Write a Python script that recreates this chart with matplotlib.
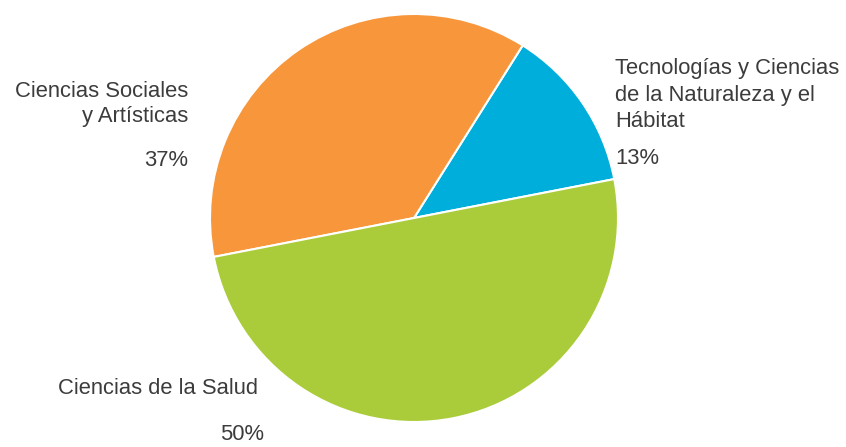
import matplotlib.pyplot as plt
import numpy as np

labels = ['Tecnologías y Ciencias\nde la Naturaleza y el\nHábitat',
          'Ciencias Sociales\ny Artísticas',
          'Ciencias de la Salud']
values = [13, 37, 50]
colors = ['#00AEDB', '#F7963A', '#AACC3A']

plt.rcParams['font.family'] = ['Liberation Sans', 'DejaVu Sans']

fig = plt.figure(figsize=(8.46, 4.47), dpi=100)
ax = fig.add_axes([0, 0, 1, 1])

H = 447
ax.pie(values, colors=colors, startangle=11, counterclock=True,
       center=(414, H - 218), radius=204,
       wedgeprops=dict(edgecolor='white', linewidth=1.5))
ax.set_xlim(0, 846)
ax.set_ylim(0, 447)
ax.set_aspect('equal')
ax.axis('off')

tc = '#3c3c3c'
fs = 15.8
# Tecnologias
ax.text(615, H - 95, labels[0], ha='left', va='center', fontsize=fs, color=tc,
        linespacing=1.32)
ax.text(615, H - 158, '%d%%' % values[0], ha='left', va='center', fontsize=fs, color=tc)
# Sociales
ax.text(188, H - 104, labels[1], ha='right', va='center', fontsize=fs, color=tc,
        linespacing=1.3, multialignment='right')
ax.text(188, H - 160, '%d%%' % values[1], ha='right', va='center', fontsize=fs, color=tc)
# Salud
ax.text(258, H - 388, labels[2], ha='right', va='center', fontsize=fs, color=tc)
ax.text(264, H - 435, '%d%%' % values[2], ha='right', va='center', fontsize=fs, color=tc)

fig.savefig('out.png', dpi=100)
